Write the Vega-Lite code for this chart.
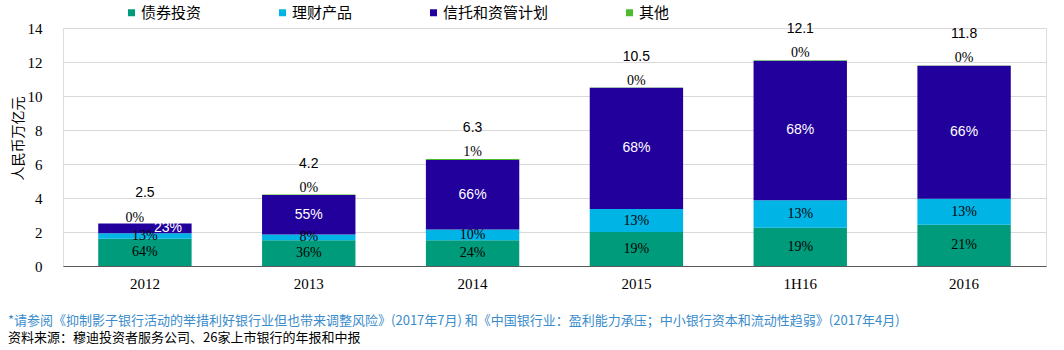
{
  "$schema": "https://vega.github.io/schema/vega-lite/v6.json",
  "width": 983,
  "height": 238,
  "padding": {"left": 8, "top": 5, "right": 19, "bottom": 4},
  "background": "white",
  "config": {
    "axisY": {
      "domain": false,
      "ticks": false,
      "gridColor": "#D9D9D9",
      "labelFont": "Liberation Serif",
      "labelFontSize": 15,
      "labelColor": "#000000",
      "labelPadding": 21,
      "labelOverlap": false,
      "titleFont": "Noto Sans CJK SC",
      "titleFontSize": 14,
      "titleFontWeight": "normal",
      "titleColor": "#000000",
      "titlePadding": 2,
      "titleY": 110
    }
  },
  "datasets": {
    "segments": [
      {"year": "2012", "series": "债券投资", "k": 1, "value": 1.6, "label": "64%"},
      {"year": "2012", "series": "理财产品", "k": 2, "value": 0.33, "label": "13%"},
      {"year": "2012", "series": "信托和资管计划", "k": 3, "value": 0.57, "label": "23%"},
      {"year": "2012", "series": "其他", "k": 4, "value": 0.0, "label": "0%"},
      {"year": "2013", "series": "债券投资", "k": 1, "value": 1.51, "label": "36%"},
      {"year": "2013", "series": "理财产品", "k": 2, "value": 0.34, "label": "8%"},
      {"year": "2013", "series": "信托和资管计划", "k": 3, "value": 2.33, "label": "55%"},
      {"year": "2013", "series": "其他", "k": 4, "value": 0.02, "label": "0%"},
      {"year": "2014", "series": "债券投资", "k": 1, "value": 1.51, "label": "24%"},
      {"year": "2014", "series": "理财产品", "k": 2, "value": 0.63, "label": "10%"},
      {"year": "2014", "series": "信托和资管计划", "k": 3, "value": 4.1, "label": "66%"},
      {"year": "2014", "series": "其他", "k": 4, "value": 0.06, "label": "1%"},
      {"year": "2015", "series": "债券投资", "k": 1, "value": 2.0, "label": "19%"},
      {"year": "2015", "series": "理财产品", "k": 2, "value": 1.35, "label": "13%"},
      {"year": "2015", "series": "信托和资管计划", "k": 3, "value": 7.13, "label": "68%"},
      {"year": "2015", "series": "其他", "k": 4, "value": 0.02, "label": "0%"},
      {"year": "1H16", "series": "债券投资", "k": 1, "value": 2.25, "label": "19%"},
      {"year": "1H16", "series": "理财产品", "k": 2, "value": 1.62, "label": "13%"},
      {"year": "1H16", "series": "信托和资管计划", "k": 3, "value": 8.21, "label": "68%"},
      {"year": "1H16", "series": "其他", "k": 4, "value": 0.02, "label": "0%"},
      {"year": "2016", "series": "债券投资", "k": 1, "value": 2.42, "label": "21%"},
      {"year": "2016", "series": "理财产品", "k": 2, "value": 1.53, "label": "13%"},
      {"year": "2016", "series": "信托和资管计划", "k": 3, "value": 7.83, "label": "66%"},
      {"year": "2016", "series": "其他", "k": 4, "value": 0.02, "label": "0%"}
    ],
    "totals": [
      {"year": "2012", "total": 2.5, "label": "2.5"},
      {"year": "2013", "total": 4.2, "label": "4.2"},
      {"year": "2014", "total": 6.3, "label": "6.3"},
      {"year": "2015", "total": 10.5, "label": "10.5"},
      {"year": "1H16", "total": 12.1, "label": "12.1"},
      {"year": "2016", "total": 11.8, "label": "11.8"}
    ]
  },
  "title": {
    "text": "*请参阅《抑制影子银行活动的举措利好银行业但也带来调整风险》(2017年7月) 和《中国银行业：盈利能力承压；中小银行资本和流动性趋弱》(2017年4月)",
    "subtitle": "资料来源：穆迪投资者服务公司、26家上市银行的年报和中报",
    "orient": "bottom",
    "anchor": "start",
    "frame": "bounds",
    "offset": 24,
    "dx": -3,
    "font": "Noto Sans CJK SC",
    "fontSize": 13,
    "fontWeight": "normal",
    "color": "#3A8CCB",
    "subtitleFont": "Noto Sans CJK SC",
    "subtitleFontSize": 13,
    "subtitleColor": "#000000",
    "subtitlePadding": 4
  },
  "encoding": {
    "x": {
      "field": "year",
      "type": "nominal",
      "sort": ["2012", "2013", "2014", "2015", "1H16", "2016"],
      "scale": {"paddingInner": 0.43, "paddingOuter": 0.215},
      "axis": {
        "title": null,
        "labelAngle": 0,
        "ticks": false,
        "domainColor": "#595959",
        "domainWidth": 1,
        "labelFont": "Liberation Serif",
        "labelFontSize": 15,
        "labelColor": "#000000",
        "labelPadding": 10
      }
    }
  },
  "layer": [
    {
      "data": {"name": "segments"},
      "mark": {"type": "bar"},
      "encoding": {
        "y": {
          "field": "value",
          "type": "quantitative",
          "stack": "zero",
          "scale": {"domain": [0, 14], "nice": false},
          "axis": {"title": "人民币万亿元", "values": [0, 2, 4, 6, 8, 10, 12, 14]}
        },
        "color": {
          "field": "series",
          "type": "nominal",
          "scale": {
            "domain": ["债券投资", "理财产品", "信托和资管计划", "其他"],
            "range": ["#009B7B", "#00B4E6", "#22009C", "#4DBB2E"]
          },
          "legend": {
            "title": null,
            "orient": "none",
            "direction": "horizontal",
            "legendX": 61,
            "legendY": -23,
            "symbolType": "square",
            "symbolSize": 49,
            "symbolStrokeWidth": 0,
            "labelFont": "Noto Sans CJK SC",
            "labelFontSize": 15,
            "labelColor": "#000000",
            "labelOffset": 2,
            "columnPadding": 73
          }
        },
        "order": {"field": "k", "type": "quantitative"}
      }
    },
    {
      "data": {"name": "segments"},
      "transform": [
        {"stack": "value", "groupby": ["year"], "sort": [{"field": "k", "order": "ascending"}], "as": ["v0", "v1"]},
        {"calculate": "(datum.v0 + datum.v1) / 2", "as": "mid"},
        {"filter": "datum.k <= 2"}
      ],
      "mark": {"type": "text", "font": "Liberation Serif", "fontSize": 14, "color": "#000000", "baseline": "middle"},
      "encoding": {
        "y": {"field": "mid", "type": "quantitative", "axis": {"title": "人民币万亿元", "values": [0, 2, 4, 6, 8, 10, 12, 14]}},
        "text": {"field": "label"}
      }
    },
    {
      "data": {"name": "segments"},
      "transform": [
        {"stack": "value", "groupby": ["year"], "sort": [{"field": "k", "order": "ascending"}], "as": ["v0", "v1"]},
        {"calculate": "(datum.v0 + datum.v1) / 2", "as": "mid"},
        {"filter": "datum.k == 3 && datum.year != '2012'"}
      ],
      "mark": {"type": "text", "font": "Liberation Sans", "fontSize": 14, "color": "#FFFFFF", "baseline": "middle"},
      "encoding": {
        "y": {"field": "mid", "type": "quantitative", "axis": {"title": "人民币万亿元", "values": [0, 2, 4, 6, 8, 10, 12, 14]}},
        "text": {"field": "label"}
      }
    },
    {
      "data": {"name": "segments"},
      "transform": [
        {"stack": "value", "groupby": ["year"], "sort": [{"field": "k", "order": "ascending"}], "as": ["v0", "v1"]},
        {"calculate": "(datum.v0 + datum.v1) / 2", "as": "mid"},
        {"filter": "datum.k == 3 && datum.year == '2012'"}
      ],
      "mark": {"type": "text", "font": "Liberation Sans", "fontSize": 14, "color": "#FFFFFF", "baseline": "middle", "dx": 23},
      "encoding": {
        "y": {"field": "mid", "type": "quantitative", "axis": {"title": "人民币万亿元", "values": [0, 2, 4, 6, 8, 10, 12, 14]}},
        "text": {"field": "label"}
      }
    },
    {
      "data": {"name": "segments"},
      "transform": [
        {"stack": "value", "groupby": ["year"], "sort": [{"field": "k", "order": "ascending"}], "as": ["v0", "v1"]},
        {"filter": "datum.k == 4 && datum.year != '2012'"}
      ],
      "mark": {"type": "text", "font": "Liberation Serif", "fontSize": 14, "color": "#000000", "baseline": "middle", "dy": -7},
      "encoding": {
        "y": {"field": "v1", "type": "quantitative", "axis": {"title": "人民币万亿元", "values": [0, 2, 4, 6, 8, 10, 12, 14]}},
        "text": {"field": "label"}
      }
    },
    {
      "data": {"name": "segments"},
      "transform": [
        {"stack": "value", "groupby": ["year"], "sort": [{"field": "k", "order": "ascending"}], "as": ["v0", "v1"]},
        {"filter": "datum.k == 4 && datum.year == '2012'"}
      ],
      "mark": {"type": "text", "font": "Liberation Serif", "fontSize": 14, "color": "#000000", "baseline": "middle", "dy": -6, "dx": -10},
      "encoding": {
        "y": {"field": "v1", "type": "quantitative", "axis": {"title": "人民币万亿元", "values": [0, 2, 4, 6, 8, 10, 12, 14]}},
        "text": {"field": "label"}
      }
    },
    {
      "data": {"name": "totals"},
      "mark": {"type": "text", "font": "Liberation Sans", "fontSize": 14, "color": "#000000", "baseline": "middle", "dy": -31},
      "encoding": {
        "y": {"field": "total", "type": "quantitative", "axis": {"title": "人民币万亿元", "values": [0, 2, 4, 6, 8, 10, 12, 14]}},
        "text": {"field": "label"}
      }
    }
  ]
}
